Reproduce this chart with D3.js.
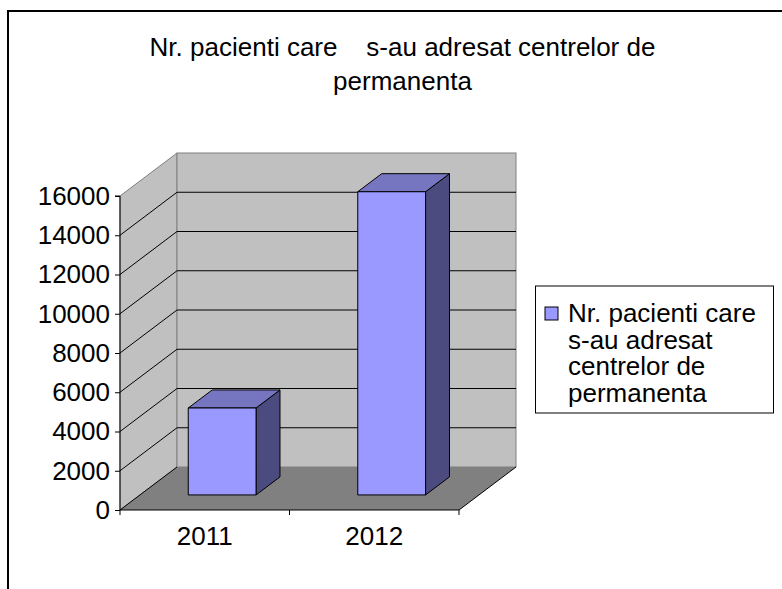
<!DOCTYPE html>
<html>
<head>
<meta charset="utf-8">
<script src="https://cdn.jsdelivr.net/npm/d3@7"></script>
<style>
  body { margin: 0; background: #fff; }
  text { font-family: "Liberation Sans", Arial, sans-serif; fill: #000; }
</style>
</head>
<body>
<script>
// data
const categories = ["2011", "2012"]
const values = [4430, 15450]
const yTicks = [0, 2000, 4000, 6000, 8000, 10000, 12000, 14000, 16000]
const titleLines = ["Nr. pacienti care    s-au adresat centrelor de", "permanenta"]
const legendLines = ["Nr. pacienti care", "s-au adresat", "centrelor de", "permanenta"]

// layout
const W = 782, H = 589
const plotLeft = 120, plotRight = 459
const yBottom = 510, yTop = 196
const depthX = 57, depthY = -43
const barFront = 0.35, barBack = 0.77
const FontSize = 26

const svg = d3.select("body").append("svg")
    .attr("width", W)
    .attr("height", H)

// outer frame
svg.append("path")
    .attr("d", `M8,${H} V11 H${W}`)
    .attr("fill", "none")
    .attr("stroke", "#000")
    .attr("stroke-width", 2)

const y = d3.scaleLinear().domain([0, 16000]).range([yBottom, yTop])
const x = d3.scaleBand().domain(categories).range([plotLeft, plotRight])
    .paddingInner(0.6).paddingOuter(0.3).align(0.475)
const xCat = d3.scaleBand().domain(categories).range([plotLeft, plotRight])

function back(px, py, t) { return [px + depthX * t, py + depthY * t] }

// side wall
svg.append("polygon")
    .attr("points", [[plotLeft, yBottom], [plotLeft, yTop], back(plotLeft, yTop, 1), back(plotLeft, yBottom, 1)].join(" "))
    .attr("fill", "#c0c0c0")
    .attr("stroke", "#808080")

// back wall
const bwL = plotLeft + depthX, bwR = plotRight + depthX
svg.append("rect")
    .attr("x", bwL)
    .attr("y", yTop + depthY)
    .attr("width", bwR - bwL)
    .attr("height", yBottom - yTop)
    .attr("fill", "#c0c0c0")
    .attr("stroke", "#808080")

// floor
svg.append("polygon")
    .attr("points", [[plotLeft, yBottom], [plotRight, yBottom], back(plotRight, yBottom, 1), back(plotLeft, yBottom, 1)].join(" "))
    .attr("fill", "#808080")

// gridlines
const grid = svg.append("g").attr("stroke", "#000").attr("fill", "none")
yTicks.filter(d => d > 0 && d < 16000).forEach(d => {
    const py = y(d)
    grid.append("path")
        .attr("d", `M${plotLeft},${py} L${bwL},${py + depthY} H${bwR}`)
})
grid.append("line")
    .attr("x1", plotLeft).attr("y1", yBottom)
    .attr("x2", bwL).attr("y2", yBottom + depthY)

// floor front + right edges
svg.append("path")
    .attr("d", `M${plotLeft},${yBottom} H${plotRight} L${bwR},${yBottom + depthY}`)
    .attr("fill", "none")
    .attr("stroke", "#000")

// bars
const bars = svg.append("g").attr("stroke", "#000").attr("stroke-linejoin", "round")
categories.forEach((c, i) => {
    const x0 = x(c) + depthX * barFront, x1 = x0 + x.bandwidth()
    const yb = yBottom + depthY * barFront
    const yt = y(values[i]) + depthY * barFront
    const dx = depthX * (barBack - barFront), dy = depthY * (barBack - barFront)
    const g = bars.append("g")
    g.append("polygon")
        .attr("points", [[x1, yt], [x1 + dx, yt + dy], [x1 + dx, yb + dy], [x1, yb]].join(" "))
        .attr("fill", "#4b4b80")
    g.append("polygon")
        .attr("points", [[x0, yt], [x0 + dx, yt + dy], [x1 + dx, yt + dy], [x1, yt]].join(" "))
        .attr("fill", "#7575c0")
    g.append("rect")
        .attr("x", x0).attr("y", yt)
        .attr("width", x1 - x0).attr("height", yb - yt)
        .attr("fill", "#9999ff")
})

// y axis
const yAxis = svg.append("g")
    .attr("transform", `translate(${plotLeft},0)`)
    .call(d3.axisLeft(y).tickValues(yTicks).tickFormat(d3.format("d")).tickSize(5).tickPadding(5))
yAxis.select(".domain").attr("stroke", "#000").attr("d", `M-5,${yTop}H0V${yBottom}`)
yAxis.selectAll("text").attr("font-size", FontSize)

// x axis
const xAxis = svg.append("g")
    .attr("transform", `translate(0,${yBottom})`)
    .call(d3.axisBottom(xCat).tickSize(0).tickPadding(16.5))
xAxis.select(".domain").remove()
xAxis.selectAll("text").attr("font-size", FontSize)
const bounds = categories.map(c => xCat(c)).concat([plotRight])
xAxis.selectAll(".bound").data(bounds).join("line")
    .attr("class", "bound")
    .attr("x1", d => d).attr("x2", d => d)
    .attr("y1", 0).attr("y2", 5)
    .attr("stroke", "#000")

// title
svg.append("g").selectAll("text").data(titleLines).join("text")
    .attr("x", 402.5)
    .attr("y", (d, i) => 56 + i * 34)
    .attr("text-anchor", "middle")
    .attr("font-size", FontSize)
    .style("white-space", "pre")
    .text(d => d)

// legend
const lg = svg.append("g")
lg.append("rect")
    .attr("x", 535.5).attr("y", 286)
    .attr("width", 238).attr("height", 127)
    .attr("fill", "#fff")
    .attr("stroke", "#000")
lg.append("rect")
    .attr("x", 545).attr("y", 307)
    .attr("width", 13).attr("height", 13)
    .attr("fill", "#9999ff")
    .attr("stroke", "#000")
lg.selectAll(".ll").data(legendLines).join("text")
    .attr("class", "ll")
    .attr("x", 568)
    .attr("y", (d, i) => 322 + i * 26.6)
    .attr("font-size", FontSize)
    .text(d => d)
</script>
</body>
</html>
